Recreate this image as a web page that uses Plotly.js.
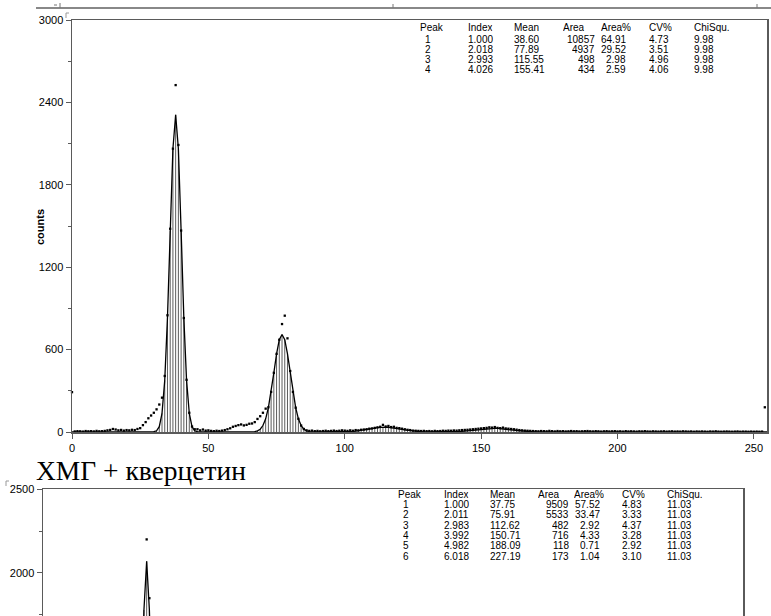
<!DOCTYPE html>
<html><head><meta charset="utf-8">
<script src="https://cdn.plot.ly/plotly-3.0.1.min.js"></script>
<style>body{margin:0;background:#fff}#chart{width:771px;height:616px}</style>
</head><body><div id="chart"></div>
<script>
const W = 771, H = 616;

// ---------- panel A (top) : raw counts per channel 0..255 ----------
const countsA = [
290,4,6,5,3,7,5,6,4,8,
5,6,8,12,15,22,18,12,15,10,
14,12,16,14,22,28,50,72,100,120,
140,165,200,250,408,850,1480,2063,2526,2090,
1467,830,380,140,40,20,20,12,18,10,
12,8,6,9,7,10,14,20,27,38,
44,50,55,48,52,60,62,72,95,115,
140,170,180,292,431,569,672,786,847,682,
444,292,177,96,47,22,12,8,10,6,
8,5,7,9,6,8,10,7,9,12,
10,8,12,9,14,12,16,18,20,24,
26,30,34,38,52,40,44,36,38,30,
28,24,20,16,14,10,9,8,7,8,
6,7,5,8,6,7,9,8,10,9,
11,10,12,14,15,16,18,20,22,24,
26,28,30,34,32,36,30,28,32,26,
24,22,20,17,14,12,10,9,8,7,
6,5,7,6,5,8,6,4,7,5,
6,4,5,7,5,6,4,5,6,7,
5,4,6,5,3,5,6,4,5,6,
4,5,3,6,4,5,4,3,5,4,
6,4,3,5,4,3,4,5,3,4,
5,3,4,3,5,4,3,4,2,4,
3,4,3,2,4,3,5,3,2,3,
4,3,2,3,4,2,3,3,2,3,
2,3,2,3,180,3
];
// fitted peak model per channel (hatched area)
const fitA = [
0,0,0,0,0,0,0,0,0,0,
0,0,0,0,0,0,0,0,0,0,
0,0,0,0,0,0,0,0,0,0,
2,9,39,136,376,832,1467,2063,2310,2063,
1467,832,376,136,39,9,2,0,0,0,
0,0,0,0,0,0,0,0,0,0,
0,0,0,0,0,0,0,3,8,20,
47,96,177,292,431,569,672,710,672,569,
431,292,177,96,47,20,8,3,0,0,
0,0,0,0,0,0,0,0,0,0,
0,0,3,4,6,8.5,11.5,14.5,18,22,
26,29,32,34,35,35,34,32,29,26,
22,18.5,15,12,9,6.5,4.6,3,2,0,
0,0,0,0,0,0,0,0,0,0,
0,0,3.8,5,6.7,8.7,10.9,13.3,15.9,18.5,
20.9,23,24.9,26.2,27,27,26.2,24.9,23,20.9,
18.5,15.9,13.3,10.9,8.7,6.7,5.1,3.8,2.7,1.5,
0,0,0,0,0,0,0,0,0,0,
0,0,0,0,0,0,0,0,0,0,
0,0,0,0,0,0,0,0,0,0,
0,0,0,0,0,0,0,0,0,0,
0,0,0,0,0,0,0,0,0,0,
0,0,0,0,0,0,0,0,0,0,
0,0,0,0,0,0,0,0,0,0,
0,0,0,0,0,0,0,0,0,0,
0,0,0,0,0,0
];
const channelsA = countsA.map((v, i) => i);

// ---------- panel B (bottom, only the top of it is visible) ----------
const channelsB = [34,35,36,37,38,39,40,41,42];
const countsB   = [300,700,1300,1640,2200,1850,1250,620,210];
const fitB      = [184,532,1131,1780,2070,1780,1131,532,184];

// ---------- tables ----------
const headers = ['Peak','Index','Mean','Area','Area%','CV%','ChiSqu.'];
const tabA = {
  peak:['1','2','3','4'],
  index:['1.000','2.018','2.993','4.026'],
  mean:['38.60','77.89','115.55','155.41'],
  area:['10857','4937','498','434'],
  areaPct:['64.91','29.52','2.98','2.59'],
  cv:['4.73','3.51','4.96','4.06'],
  chi:['9.98','9.98','9.98','9.98']
};
const tabB = {
  peak:['1','2','3','4','5','6'],
  index:['1.000','2.011','2.983','3.992','4.982','6.018'],
  mean:['37.75','75.91','112.62','150.71','188.09','227.19'],
  area:['9509','5533','482','716','118','173'],
  areaPct:['57.52','33.47','2.92','4.33','0.71','1.04'],
  cv:['4.83','3.33','4.37','3.28','2.92','3.10'],
  chi:['11.03','11.03','11.03','11.03','11.03','11.03']
};
const captionText = 'ХМГ + кверцетин';

// ---------- helpers ----------
const px = x => x / W;
const py = y => 1 - y / H;
function hatch(xs, ys) {
  const hx = [], hy = [];
  xs.forEach((x, i) => { if (ys[i] > 0) { hx.push(x, x, null); hy.push(0, ys[i], null); } });
  return {hx, hy};
}
const hA = hatch(channelsA, fitA);
const hB = hatch(channelsB, fitB);

const AX = '#5a5a5a';
const SANS = 'Liberation Sans, Arial, sans-serif';

const traces = [
  {x:hA.hx, y:hA.hy, xaxis:'x', yaxis:'y', mode:'lines', line:{color:'#5c5c5c', width:1}, hoverinfo:'skip', showlegend:false},
  {x:channelsA, y:fitA, xaxis:'x', yaxis:'y', mode:'lines', line:{color:'#000', width:1.3}, showlegend:false},
  {x:channelsA, y:countsA, xaxis:'x', yaxis:'y', mode:'markers', marker:{symbol:'square', size:2.3, color:'#000'}, cliponaxis:false, showlegend:false},
  {x:hB.hx, y:hB.hy, xaxis:'x2', yaxis:'y2', mode:'lines', line:{color:'#5c5c5c', width:1}, hoverinfo:'skip', showlegend:false},
  {x:channelsB, y:fitB, xaxis:'x2', yaxis:'y2', mode:'lines', line:{color:'#000', width:1.3}, showlegend:false},
  {x:channelsB, y:countsB, xaxis:'x2', yaxis:'y2', mode:'markers', marker:{symbol:'square', size:2.3, color:'#000'}, showlegend:false}
];

const tickfont = {family:SANS, size:11, color:'#000'};
const annotations = [];

function addTable(tab, cols, yHead, rowYs) {
  const fnt = {family:SANS, size:10, color:'#000'};
  headers.forEach((h, j) => annotations.push({xref:'paper', yref:'paper', x:px(cols.head[j]), y:py(yHead), text:h, showarrow:false,
    xanchor:'left', yanchor:'middle', font:fnt, height:10.5, borderpad:0}));
  const keys = ['peak','index','mean','area','areaPct','cv','chi'];
  keys.forEach((k, j) => {
    tab[k].forEach((v, i) => {
      const right = (k === 'area' || k === 'areaPct');
      annotations.push({xref:'paper', yref:'paper', x:px(cols.val[j]), y:py(rowYs[i]), text:v, showarrow:false,
        xanchor: right ? 'right' : 'left', yanchor:'middle', font:fnt, height:9.5, borderpad:0});
    });
  });
}
addTable(tabA, {head:[419,467,513,562,600,648,693], val:[424,467,513,596,627,648,693]}, 28, [39.5,49.8,60.1,70.4]);
addTable(tabB, {head:[397,443,489,537,573,621,666], val:[402,443,489,570,601,621,666]}, 494, [505,515.3,525.6,535.9,546.2,556.5]);

annotations.push({xref:'paper', yref:'paper', x:px(40), y:py(227), text:'<b>counts</b>', textangle:-90, showarrow:false, xanchor:'center', yanchor:'middle', font:{family:SANS, size:11, color:'#000'}});
annotations.push({xref:'paper', yref:'paper', x:px(34), y:py(470), text:captionText, showarrow:false, xanchor:'left', yanchor:'middle', font:{family:'Liberation Serif, Times New Roman, serif', size:27.5, color:'#000'}});

const shapes = [
  // remnant of the panel above
  {type:'line', xref:'paper', yref:'paper', x0:px(36), x1:px(771), y0:py(8), y1:py(8), line:{color:'#888', width:2}},
  {type:'line', xref:'paper', yref:'paper', x0:px(60), x1:px(60), y0:py(3), y1:py(8), line:{color:'#777', width:1}},
  {type:'line', xref:'paper', yref:'paper', x0:px(393), x1:px(393), y0:py(4), y1:py(8), line:{color:'#777', width:1}},
  {type:'line', xref:'paper', yref:'paper', x0:px(757), x1:px(757), y0:py(4), y1:py(8), line:{color:'#777', width:1}},
  {type:'line', xref:'paper', yref:'paper', x0:px(54), x1:px(57), y0:py(5), y1:py(5), line:{color:'#777', width:1}},
  // small corner marks
  {type:'line', xref:'paper', yref:'paper', x0:px(66), x1:px(66), y0:py(13), y1:py(18), line:{color:'#999', width:1}},
  {type:'line', xref:'paper', yref:'paper', x0:px(66), x1:px(69), y0:py(13), y1:py(13), line:{color:'#999', width:1}},
  {type:'line', xref:'paper', yref:'paper', x0:px(6), x1:px(6), y0:py(481), y1:py(486), line:{color:'#999', width:1}},
  {type:'line', xref:'paper', yref:'paper', x0:px(6), x1:px(9), y0:py(481), y1:py(481), line:{color:'#999', width:1}}
];

const layout = {
  width:W, height:H, margin:{l:0, r:0, t:0, b:0},
  paper_bgcolor:'#fff', plot_bgcolor:'rgba(0,0,0,0)', showlegend:false,
  xaxis:{domain:[px(72), px(767)], range:[0, 254.8], anchor:'y', showline:true, linecolor:AX, linewidth:1.5, mirror:true,
    ticks:'outside', ticklen:5, tickcolor:AX, tickwidth:1, tick0:0, dtick:50, tickfont:tickfont, showgrid:false, zeroline:false},
  yaxis:{domain:[py(432), py(20)], range:[0, 3000], anchor:'x', showline:true, linecolor:AX, linewidth:1.5, mirror:true,
    ticks:'outside', ticklen:5, tickcolor:AX, tickwidth:1, tick0:0, dtick:600, tickfont:tickfont, showgrid:false, zeroline:false,
    minor:{dtick:300, ticks:'outside', ticklen:3, tickcolor:AX, showgrid:false}},
  xaxis2:{domain:[px(43), px(743)], range:[0, 256.6], anchor:'y2', side:'top', showline:true, linecolor:AX, linewidth:1.5,
    ticks:'', showticklabels:false, showgrid:false, zeroline:false},
  yaxis2:{domain:[0, py(489)], range:[1744, 2500], anchor:'x2', showline:true, linecolor:AX, linewidth:1.5, mirror:true,
    ticks:'outside', ticklen:5, tickcolor:AX, tickwidth:1, tick0:0, dtick:500, tickfont:tickfont, showgrid:false, zeroline:false,
    minor:{dtick:250, ticks:'outside', ticklen:3, tickcolor:AX, showgrid:false}},
  annotations:annotations, shapes:shapes
};

Plotly.newPlot('chart', traces, layout, {staticPlot:true, displayModeBar:false});
</script>
</body></html>
